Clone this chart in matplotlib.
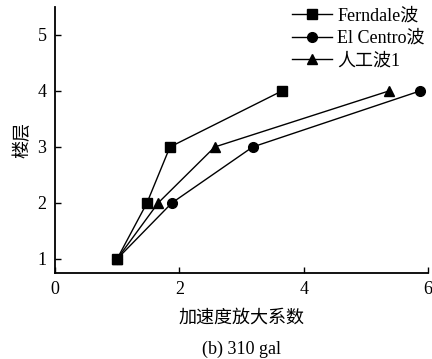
import matplotlib
matplotlib.use("Agg")
import matplotlib.pyplot as plt

plt.rcParams['font.family'] = ['Liberation Serif', 'Noto Sans CJK SC']
plt.rcParams['mathtext.fontset'] = 'stix'

floors = [1, 2, 3, 4]
ferndale = [1.0, 1.48, 1.85, 3.65]
el_centro = [1.0, 1.88, 3.18, 5.87]
artificial = [1.0, 1.66, 2.57, 5.37]

series_labels = ['Ferndale波', 'El Centro波', '人工波1']
x_ticks = [0, 2, 4, 6]
y_ticks = [1, 2, 3, 4, 5]

fig = plt.figure(figsize=(4.32, 3.59), dpi=100)
ax = fig.add_axes([0.127, 0.2396, 0.864, 0.741])

style = dict(color='black', lw=1.0, markersize=7, clip_on=False)
ax.plot(ferndale, floors, marker='s', label=series_labels[0], **style)
ax.plot(el_centro, floors, marker='o', label=series_labels[1], **style)
ax.plot(artificial, floors, marker='^', label=series_labels[2], **style)

ax.set_xlim(0, 6)
ax.set_ylim(0.75, 5.5)
ax.set_xticks(x_ticks)
ax.set_yticks(y_ticks)
ax.tick_params(direction='in', length=4, width=1.0, labelsize=13, pad=6)
for s in ['top', 'right']:
    ax.spines[s].set_visible(False)
for s in ['left', 'bottom']:
    ax.spines[s].set_linewidth(1.3)

ax.set_ylabel('楼层', fontsize=13, labelpad=4)
ax.set_xlabel('加速度放大系数', fontsize=13, labelpad=8)
fig.text(0.56, 0.015, '(b) 310 gal', ha='center', fontsize=13)

ax.legend(loc='upper right', bbox_to_anchor=(1.01, 1.025), frameon=False,
          fontsize=13, handlelength=2.2, handletextpad=0.3,
          labelspacing=0.3, borderaxespad=0)

fig.savefig('out.png', dpi=100)
